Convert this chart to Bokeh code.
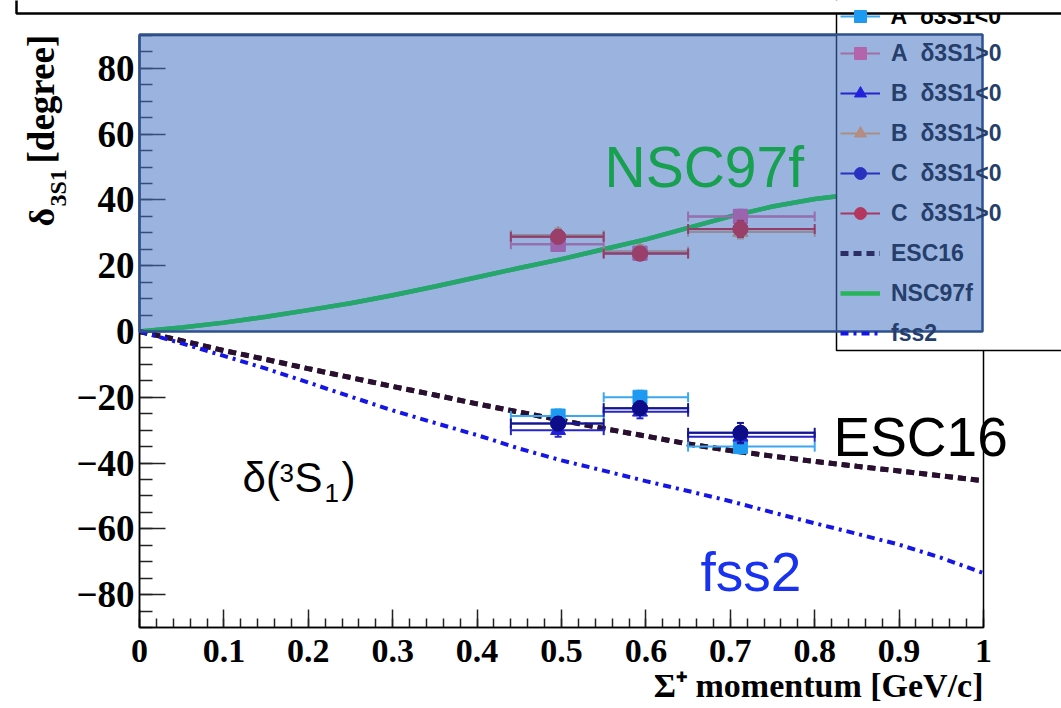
import math
from bokeh.plotting import figure
from bokeh.models import (Range1d, FixedTicker, CustomJSTickFormatter, Legend, LegendItem,
                          BoxAnnotation, Label, ColumnDataSource, LinearAxis)
from bokeh.embed import file_html
from bokeh.resources import INLINE

# ---------------- data ----------------
theory_x = [0.0, 0.05, 0.1, 0.15, 0.2, 0.25, 0.3, 0.35, 0.4, 0.45, 0.5,
            0.55, 0.6, 0.65, 0.7, 0.75, 0.8, 0.85, 0.9, 0.95, 1.0]
esc16 = [0.0, -2.8, -5.8, -8.5, -11.3, -14.0, -16.7, -19.3, -22.0, -24.5, -27.0,
         -29.5, -31.8, -34.2, -36.2, -37.9, -39.5, -41.0, -42.4, -43.9, -45.4]
fss2 = [0.0, -3.6, -7.4, -11.3, -15.5, -19.8, -24.0, -27.8, -31.5, -35.6, -39.2,
        -42.3, -45.5, -48.5, -51.6, -55.0, -58.3, -61.5, -64.8, -68.8, -73.5]
nsc_x = [0.0, 0.05, 0.1, 0.15, 0.2, 0.25, 0.3, 0.35, 0.4, 0.45, 0.5,
         0.55, 0.6, 0.65, 0.7, 0.75, 0.8, 0.85]
nsc97f = [0.0, 1.2, 2.7, 4.5, 6.5, 8.6, 11.0, 13.7, 16.5, 19.3, 22.0,
          25.0, 28.0, 31.5, 35.0, 38.0, 40.3, 41.8]

bin_lo = [0.44, 0.55, 0.65]
bin_hi = [0.55, 0.65, 0.80]
p_mean = [0.496, 0.593, 0.712]

A_neg = [-25.7, -20.0, -35.0]
A_pos = [26.5, 23.8, 35.0]
B_neg = [-30.0, -24.4, -32.0]
B_pos = [29.3, 24.3, 30.3]
C_neg = [-28.0, -23.3, -30.8]
C_pos = [28.8, 23.7, 31.2]
A_neg_err = [2.0, 2.0, 2.0]
A_pos_err = [2.0, 2.0, 2.0]
B_neg_err = [2.0, 2.0, 2.0]
B_pos_err = [2.0, 2.0, 2.0]
C_neg_err = [2.0, 2.0, 3.0]
C_pos_err = [2.0, 2.0, 2.5]

x_ticks = [0.0, 0.1, 0.2, 0.3, 0.4, 0.5, 0.6, 0.7, 0.8, 0.9, 1.0]
y_ticks = [-80, -60, -40, -20, 0, 20, 40, 60, 80]

legend_labels = ["A\u00a0 δ3S1<0", "A\u00a0 δ3S1>0", "B\u00a0 δ3S1<0", "B\u00a0 δ3S1>0",
                 "C\u00a0 δ3S1<0", "C\u00a0 δ3S1>0", "ESC16", "NSC97f", "fss2"]

# ---------------- geometry helpers (canvas px -> data) ----------------
W, H = 1061, 708
PX0, PX1 = 139.0, 983.0          # x = 0 and x = 1
PY0, PYS = 331.0, 592.0 / 180.0  # y = 0 and px per degree

def dx(px):
    return (px - PX0) / (PX1 - PX0)

def dy(py):
    return (PY0 - py) / PYS

p = figure(width=W, height=H, min_border=0,
           min_border_left=0, min_border_right=0, min_border_top=0, min_border_bottom=0,
           x_range=Range1d(dx(0), dx(W)), y_range=Range1d(dy(H), dy(0)),
           x_axis_location=None, y_axis_location=None,
           output_backend="svg", toolbar_location=None)
p.grid.visible = False
p.background_fill_color = "white"
p.border_fill_color = "white"
p.outline_line_color = None

minor_x = [round(i * 0.02, 2) for i in range(51)]
minor_y = list(range(-90, 91, 5))
xaxis = LinearAxis(fixed_location=-90, bounds=(0, 1),
                   ticker=FixedTicker(ticks=x_ticks, minor_ticks=minor_x),
                   formatter=CustomJSTickFormatter(code="return (Math.round(tick*10)/10).toString();"))
yaxis = LinearAxis(fixed_location=0, bounds=(-90, 90),
                   ticker=FixedTicker(ticks=y_ticks, minor_ticks=minor_y),
                   formatter=CustomJSTickFormatter(
                       code="return tick < 0 ? '\u2212' + Math.abs(tick) : tick.toString();"))
for ax in (xaxis, yaxis):
    ax.major_tick_out = 0
    ax.minor_tick_out = 0
    ax.axis_line_color = "black"
    ax.axis_line_width = 1.5
    ax.major_tick_line_color = "#222222"
    ax.minor_tick_line_color = "#222222"
    ax.major_tick_line_width = 1.5
    ax.minor_tick_line_width = 1.5
    ax.major_label_text_font = "Liberation Serif"
    ax.major_label_text_font_style = "bold"
    ax.major_label_text_color = "black"
xaxis.major_label_text_font_size = "34px"
yaxis.major_label_text_font_size = "37px"
xaxis.major_tick_in = 18
xaxis.minor_tick_in = 9
yaxis.major_tick_in = 26
yaxis.minor_tick_in = 13
xaxis.major_label_standoff = 12
yaxis.major_label_standoff = 5
p.add_layout(xaxis, "below")
p.add_layout(yaxis, "left")

# ---------------- theory curves ----------------
# legend swatch copies (hidden exactly beneath the real curves) carry the see-through colours
l_nsc = p.line(nsc_x, nsc97f, line_color="#28B45A", line_width=4.5)
r_nsc = p.line(nsc_x, nsc97f, line_color="#00E500", line_width=4.5)
l_esc = p.line(theory_x, esc16, line_color="#2E2E66", line_width=5, line_dash="8 5")
r_esc = p.line(theory_x, esc16, line_color="#2B0F2E", line_width=5, line_dash="8 5")
r_fss = p.line(theory_x, fss2, line_color="#1515E6", line_width=4, line_dash="8 5 3 5")

# ---------------- data series ----------------
def draw_series(yvals, yerr, color, bar_color, marker, size, leg_color=None, leg_bar=None):
    src = ColumnDataSource(dict(x=p_mean, y=yvals, lo=bin_lo, hi=bin_hi,
                                ylo=[v - e for v, e in zip(yvals, yerr)],
                                yhi=[v + e for v, e in zip(yvals, yerr)]))
    leg = None
    if leg_color is not None:
        lb = p.segment(x0="lo", x1="hi", y0="y", y1="y", source=src,
                       line_color=leg_bar, line_width=2)
        lm = p.scatter(x="x", y="y", source=src, marker=marker, size=size,
                       fill_color=leg_color, line_color=leg_color)
        leg = [lb, lm]
    bar = p.segment(x0="lo", x1="hi", y0="y", y1="y", source=src,
                    line_color=bar_color, line_width=2)
    p.segment(x0="x", x1="x", y0="ylo", y1="yhi", source=src,
              line_color=bar_color, line_width=2)
    for col in ("lo", "hi"):
        p.scatter(x=col, y="y", source=src, marker="dash", angle=math.pi / 2,
                  size=10, line_color=bar_color, line_width=2)
    for col in ("ylo", "yhi"):
        p.scatter(x="x", y=col, source=src, marker="dash", size=7,
                  line_color=bar_color, line_width=2)
    mk = p.scatter(x="x", y="y", source=src, marker=marker, size=size,
                   fill_color=color, line_color=color)
    return leg if leg is not None else [bar, mk]

# >0 series sit under the translucent slide box: colours chosen so they look right through it
rA_neg = draw_series(A_neg, A_neg_err, "#1E9BF0", "#3AA8F0", "square", 14)
rB_neg = draw_series(B_neg, B_neg_err, "#2222DD", "#2626C8", "triangle", 15)
rC_neg = draw_series(C_neg, C_neg_err, "#0D0D8A", "#15158F", "circle", 15,
                     leg_color="#2832BE", leg_bar="#2832BE")
rA_pos = draw_series(A_pos, A_pos_err, "#FF5396", "#FF698C", "square", 14,
                     leg_color="#B464AA", leg_bar="#A46EA6")
rB_pos = draw_series(B_pos, B_pos_err, "#FFAA34", "#F6AA60", "triangle", 15,
                     leg_color="#B48C82", leg_bar="#A89084")
rC_pos = draw_series(C_pos, C_pos_err, "#FF0000", "#F00000", "circle", 15,
                     leg_color="#B4375F", leg_bar="#A63A62")

# ---------------- frame outline and legend box ----------------
frame = BoxAnnotation(left=0, right=1, bottom=-90, top=90, fill_alpha=0.0,
                      line_color="black", line_width=1.5, line_alpha=1.0)
p.add_layout(frame)
legbox = BoxAnnotation(left=dx(836), right=dx(1200), bottom=dy(350), top=dy(-200),
                       fill_color="white", fill_alpha=1.0,
                       line_color="black", line_width=1.5, line_alpha=1.0)
p.add_layout(legbox)

SHIFT = 0.42  # renderer places the alphabetic baseline ~0.42 em lower than asked

def add_label(px, py, text, size, color="black", font="Liberation Sans", style="normal",
              align="left", angle=0.0):
    if angle == 0.0:
        py = py - SHIFT * size
    else:
        px = px - SHIFT * size
    lab = Label(x=dx(px), y=dy(py), text=text, text_font=font, text_font_size=f"{size}px",
                text_font_style=style, text_color=color, text_align=align,
                text_baseline="alphabetic", angle=angle)
    p.add_layout(lab)

# first legend entry sits under the slide's top box, so its text is an ordinary label
add_label(890, 25, legend_labels[0], 23, style="bold")

# ---------------- slide overlays ----------------
overlay = BoxAnnotation(left=0, right=dx(982), bottom=0, top=dy(34),
                        fill_color="#4472C4", fill_alpha=0.54,
                        line_color="#2F528F", line_width=2.5, line_alpha=1.0)
p.add_layout(overlay)
topbox = BoxAnnotation(left=dx(16), right=dx(1200), bottom=dy(13), top=dy(-200),
                       fill_color="white", fill_alpha=1.0,
                       line_color="black", line_width=2.5, line_alpha=1.0)
p.add_layout(topbox)

add_label(604, 190, "NSC97f", 57, color="#17A050")
add_label(833, 460, "ESC16", 55)
add_label(700, 595, "fss2", 55, color="#1932F0")
add_label(242, 495, "δ(", 42)
add_label(279, 483, "3", 26)
add_label(294, 495, "S", 42)
add_label(324, 503, "1", 26)
add_label(341, 495, ")", 42)

# axis titles
add_label(983, 699, "Σ\u207a momentum [GeV/c]", 34, font="Liberation Serif", style="bold",
          align="right")
add_label(57, 226, "δ", 36, font="Liberation Serif", style="bold", angle=math.pi / 2)
add_label(68, 206, "3S1", 24, font="Liberation Serif", style="bold", angle=math.pi / 2)
add_label(57, 163, "[degree]", 37, font="Liberation Serif", style="bold", angle=math.pi / 2)

# ---------------- legends (drawn on top by the library; transparent, box drawn above) ----------------
common = dict(padding=2, spacing=10, glyph_width=40, glyph_height=30, label_height=30,
              label_width=200, label_standoff=11, background_fill_alpha=0.0,
              border_line_alpha=0.0, label_text_font="Liberation Sans",
              label_text_font_style="bold", label_text_font_size="23px")
series_r = [rA_pos, rB_neg, rB_pos, rC_neg, rC_pos, [l_esc], [l_nsc], [r_fss]]
items = [LegendItem(label=lab, renderers=rs) for lab, rs in zip(legend_labels[1:], series_r)]
legend = Legend(items=items, location=(838, H - 350), label_text_color="#253E6A", **common)
p.add_layout(legend)
legend_top = Legend(items=[LegendItem(label="\u00a0", renderers=rA_neg)],
                    location=(838, H - 33), label_text_color="black", **common)
p.add_layout(legend_top)

open("out.html", "w").write(file_html(p, INLINE))
